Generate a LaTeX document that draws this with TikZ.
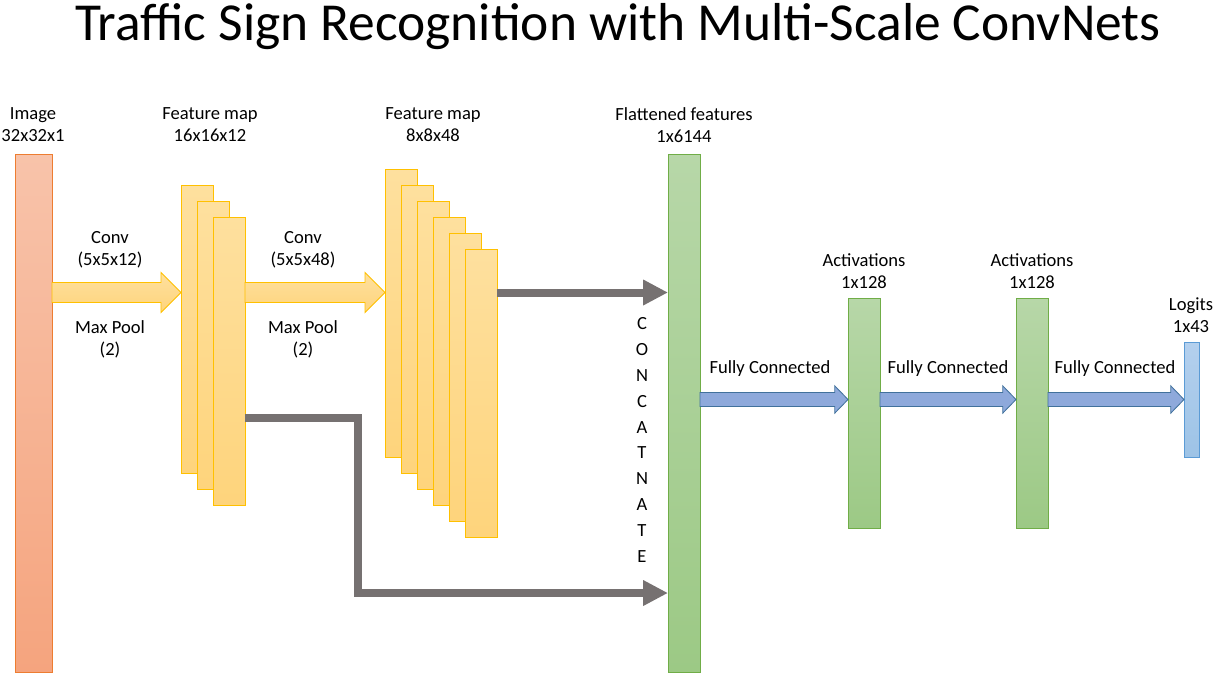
\documentclass[tikz,border=0pt]{standalone}
\usepackage{fontspec}
\setmainfont{Carlito}
\usepackage{tikz}
\usetikzlibrary{arrows.meta,calc}

\definecolor{imgedge}{HTML}{ED7D31}
\definecolor{imgtop}{HTML}{F8C3AA}
\definecolor{imgbot}{HTML}{F5A47E}
\definecolor{fmapedge}{HTML}{FFC000}
\definecolor{fmaptop}{HTML}{FEE09E}
\definecolor{fmapbot}{HTML}{FED47C}
\definecolor{flatedge}{HTML}{70AD47}
\definecolor{flattop}{HTML}{B7D7A8}
\definecolor{flatbot}{HTML}{9CC985}
\definecolor{logitedge}{HTML}{5B9BD5}
\definecolor{logittop}{HTML}{B4D0EE}
\definecolor{logitbot}{HTML}{9DC3E6}
\definecolor{fcfill}{HTML}{8EA9DB}
\definecolor{fcedge}{HTML}{41719C}
\definecolor{skipgray}{HTML}{767171}

\tikzstyle{layer} = [rectangle, inner sep=0pt, outer sep=0pt, anchor=north west, minimum width=0.8cm, line width=0.6pt]
\tikzstyle{imagebox} = [layer, draw=imgedge, top color=imgtop, bottom color=imgbot, minimum width=0.925cm, minimum height=12.95cm]
\tikzstyle{fmap} = [layer, draw=fmapedge, top color=fmaptop, bottom color=fmapbot, minimum height=7.2cm]
\tikzstyle{flat} = [layer, draw=flatedge, top color=flattop, bottom color=flatbot, minimum height=12.95cm]
\tikzstyle{dense} = [layer, draw=flatedge, top color=flattop, bottom color=flatbot, minimum height=5.75cm]
\tikzstyle{logit} = [layer, draw=logitedge, top color=logittop, bottom color=logitbot, minimum width=0.375cm, minimum height=2.875cm]
\tikzstyle{lbl} = [align=center, inner sep=0pt, font=\fontsize{13.2}{15.6}\selectfont]
\tikzstyle{convarrow} = [draw=fmapedge, line width=0.6pt, top color=fmaptop, bottom color=fmapbot]
\tikzstyle{fcarrow} = [draw=fcedge, line width=0.6pt, fill=fcfill]
\tikzstyle{skip} = [draw=skipgray, line width=5.7pt, -{Triangle[length=0.62cm,width=0.6cm]}]

% block arrow: style, from, to, half shaft, half head, head length
\newcommand{\blockarrow}[6]{%
  \draw[#1] let \p1=(#2), \p2=(#3) in
    (\x1,\y1+#4) -- (\x2-#6,\y1+#4) -- (\x2-#6,\y1+#5) -- (\x2,\y1)
    -- (\x2-#6,\y1-#5) -- (\x2-#6,\y1-#4) -- (\x1,\y1-#4) -- cycle;}

\begin{document}
\begin{tikzpicture}[x=0.025cm, y=-0.025cm]
        \useasboundingbox (0,0) rectangle (1220,679);

        \node (title) at (618,27) {\fontsize{38}{44}\selectfont Traffic Sign Recognition with Multi-Scale ConvNets};

        % layers
        \node (img) [imagebox] at (15,154) {};

        \node (fm1a) [fmap] at (181,185) {};
        \node (fm1b) [fmap] at (197,201) {};
        \node (fm1c) [fmap] at (213,217) {};

        \node (fm2a) [fmap] at (385,169) {};
        \node (fm2b) [fmap] at (401,185) {};
        \node (fm2c) [fmap] at (417,201) {};
        \node (fm2d) [fmap] at (433,217) {};
        \node (fm2e) [fmap] at (449,233) {};
        \node (fm2f) [fmap] at (465,249) {};

        \node (flat) [flat] at (668,154) {};
        \node (act1) [dense] at (848,298) {};
        \node (act2) [dense] at (1016,298) {};
        \node (logits) [logit] at (1184,342) {};

        % layer captions
        \node (imglbl) [lbl] at (33,125) {Image\\32x32x1};
        \node (fm1lbl) [lbl] at (210,125) {Feature map\\16x16x12};
        \node (fm2lbl) [lbl] at (433,125) {Feature map\\8x8x48};
        \node (flatlbl) [lbl] at (684,125) {Flattened features\\1x6144};
        \node (act1lbl) [lbl] at (864,271) {Activations\\1x128};
        \node (act2lbl) [lbl] at (1032,271) {Activations\\1x128};
        \node (logitlbl) [lbl] at (1191,315) {Logits\\1x43};

        % operations
        \coordinate (convrow) at (0,292.5);
        \coordinate (fcrow) at (0,399.5);
        \blockarrow{convarrow}{img.east |- convrow}{fm1a.west |- convrow}{0.25cm}{0.5cm}{0.5cm}
        \blockarrow{convarrow}{fm1c.east |- convrow}{fm2a.west |- convrow}{0.25cm}{0.5cm}{0.5cm}
        \node (conv1) [lbl] at (110,250) {Conv\\(5x5x12)};
        \node (pool1) [lbl] at (110,339) {Max Pool\\(2)};
        \node (conv2) [lbl] at (303,250) {Conv\\(5x5x48)};
        \node (pool2) [lbl] at (303,339) {Max Pool\\(2)};

        \draw[skip] (fm2f.east |- convrow) -- (flat.west |- convrow);
        \coordinate (skipa) at (358,418);
        \coordinate (skipb) at (358,593);
        \draw[skip] (fm1c.east |- skipa) -- (skipa) -- (skipb) -- (flat.west |- skipb);
        \node (concat) [lbl, font=\fontsize{13.2}{18.4}\selectfont] at (642,440) {C\\O\\N\\C\\A\\T\\N\\A\\T\\E};

        \blockarrow{fcarrow}{flat.east |- fcrow}{act1.west |- fcrow}{0.175cm}{0.34cm}{0.33cm}
        \blockarrow{fcarrow}{act1.east |- fcrow}{act2.west |- fcrow}{0.175cm}{0.34cm}{0.33cm}
        \blockarrow{fcarrow}{act2.east |- fcrow}{logits.west |- fcrow}{0.175cm}{0.34cm}{0.33cm}
        \node (fc1) [lbl] at (770,369) {Fully Connected};
        \node (fc2) [lbl] at (948,369) {Fully Connected};
        \node (fc3) [lbl] at (1115,369) {Fully Connected};

    \end{tikzpicture}
\end{document}
